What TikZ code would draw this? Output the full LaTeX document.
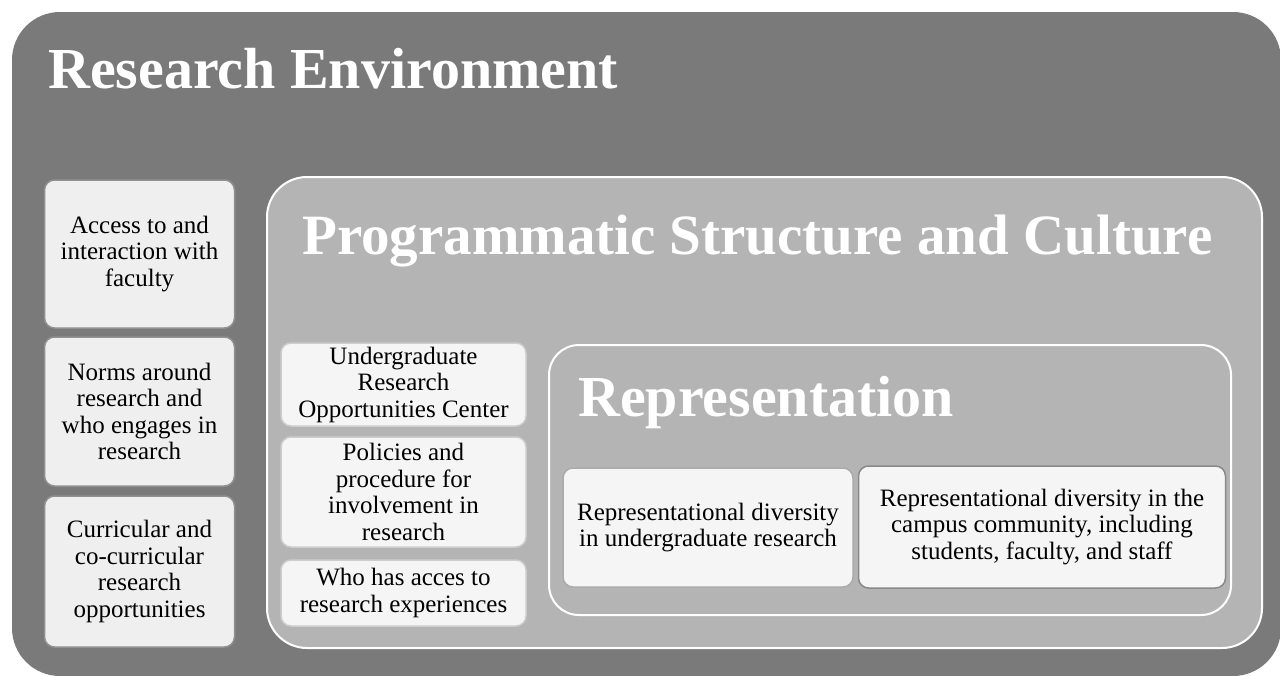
\documentclass[tikz,border=0pt]{standalone}
\usepackage{fontspec}
\setmainfont{Liberation Serif}

\definecolor{envgray}{HTML}{7A7A7A}
\definecolor{proggray}{HTML}{B4B4B4}
\definecolor{cardfill}{HTML}{F5F5F5}
\definecolor{sidefill}{HTML}{EFEFEF}
\definecolor{cardline}{HTML}{ABABAB}

\tikzset{
	card/.style={draw=cardline, line width=1.5pt, fill=cardfill, rounded corners=10pt, align=center, inner sep=0pt, font=\fontsize{25}{26.5}\selectfont},
	sidecard/.style={card, fill=sidefill, draw=cardline!85!black, minimum width=190pt},
	frame/.style={draw=white, line width=2pt, fill=proggray},
	heading/.style={text=white, anchor=base west, inner sep=0pt, font=\bfseries\fontsize{57}{60}\selectfont}
}

\begin{document}
\begin{tikzpicture}[x=1pt, y=-1pt]
			%%%%% START %%%%%
			\useasboundingbox (0, 0) rectangle (1280, 675);
			\clip (0, 0) rectangle (1280, 675);
			\fill[white] (0, 0) rectangle (1280, 675);
			
			\fill[envgray, rounded corners=48pt] (12, 12) rectangle (1281, 676);
			\node[heading, font=\bfseries\fontsize{58}{60}\selectfont] (envtitle) at (48, 88) {Research Environment};
			
			\node[sidecard, minimum height=148pt] (access) at (139.5, 254) {Access to and\\interaction with\\faculty};
			\node[sidecard, minimum height=149pt] (norms) at (139.5, 411.5) {Norms around\\research and\\who engages in\\research};
			\node[sidecard, minimum height=151pt] (curric) at (139.5, 571.5) {Curricular and\\co-curricular\\research\\opportunities};
			
			\draw[frame, rounded corners=40pt] (267, 177) rectangle (1262, 648);
			\node[heading] (progtitle) at (302, 254) {Programmatic Structure and Culture};
			
			\node[card, draw=cardline!60, minimum width=245pt, minimum height=83pt] (center) at (403.5, 384.5) {Undergraduate\\Research\\Opportunities Center};
			\node[card, draw=cardline!60, minimum width=245pt, minimum height=110pt] (policies) at (403.5, 492) {Policies and\\procedure for\\involvement in\\research};
			\node[card, draw=cardline!60, minimum width=245pt, minimum height=66pt] (access2) at (403.5, 593) {Who has acces to\\research experiences};
			
			\draw[frame, rounded corners=30pt] (549, 345) rectangle (1231, 615);
			\node[heading, font=\bfseries\fontsize{58}{60}\selectfont] (reptitle) at (578, 416) {Representation};
			
			\node[card, minimum width=290pt, minimum height=119pt] (repug) at (708, 527.5) {Representational diversity\\in undergraduate research};
			\node[card, draw=cardline!80!black, minimum width=367pt, minimum height=122pt] (repcamp) at (1042, 527) {Representational diversity in the\\campus community, including\\students, faculty, and staff};
			
			%%%%% END %%%%%
\end{tikzpicture}
\end{document}
